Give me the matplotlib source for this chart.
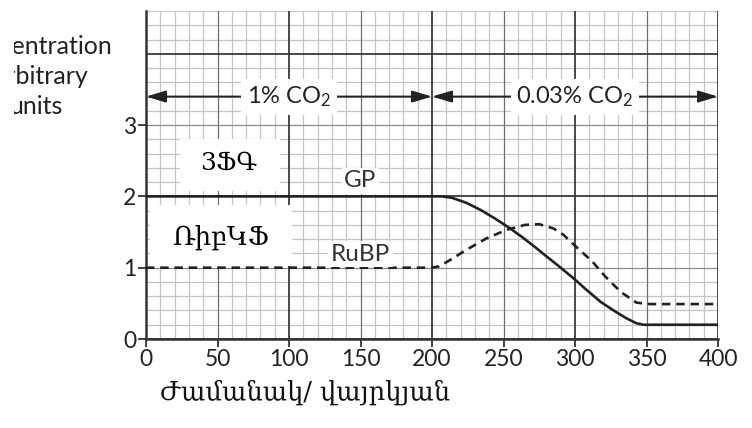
import matplotlib
matplotlib.use("Agg")
import matplotlib.pyplot as plt
import numpy as np
from matplotlib.patches import Rectangle

plt.rcParams['font.family'] = ['Lato', 'DejaVu Sans']
plt.rcParams['mathtext.fontset'] = 'custom'
plt.rcParams['mathtext.rm'] = 'Lato'
plt.rcParams['mathtext.it'] = 'Lato'

# ---- data ----
gp_time = [0, 200, 207, 214, 224, 234, 244, 254, 263, 272, 280, 290, 299, 308, 318, 327, 336, 343, 348, 400]
gp_conc = [2.0, 2.0, 2.0, 1.98, 1.91, 1.81, 1.69, 1.56, 1.43, 1.29, 1.16, 1.00, 0.85, 0.69, 0.52, 0.40, 0.29, 0.22, 0.20, 0.20]

rubp_time = [0, 200, 205, 212, 224, 238, 252, 265, 275, 285, 292, 302, 312, 321, 332, 343, 352, 400]
rubp_conc = [1.0, 1.0, 1.02, 1.10, 1.25, 1.41, 1.53, 1.60, 1.61, 1.55, 1.46, 1.27, 1.09, 0.88, 0.66, 0.51, 0.49, 0.49]

x_ticks = [0, 50, 100, 150, 200, 250, 300, 350, 400]
y_ticks = [0, 1, 2, 3]
phase_labels = ['1% CO$_2$', '0.03% CO$_2$']
phase_ranges = [(0, 200), (200, 400)]

fig = plt.figure(figsize=(7.52, 4.28), dpi=100)
ax = fig.add_axes([146/752, 89/428, 572/752, 328/428])
ax.set_xlim(0, 400)
ax.set_ylim(0, 4.6)

# graph-paper grid
for xv in np.arange(0, 401, 10):
    if xv % 100 == 0:
        ax.axvline(xv, color='#3a3a3a', lw=1.3, zorder=0.6)
    elif xv % 50 == 0:
        ax.axvline(xv, color='#6e6e6e', lw=0.9, zorder=0.5)
    else:
        ax.axvline(xv, color='#c4c4c4', lw=0.9, zorder=0.4)
for yv in np.arange(0, 4.61, 0.2):
    r = round(yv, 1)
    if abs(r % 2) < 1e-6:
        ax.axhline(r, color='#3a3a3a', lw=1.3, zorder=0.6)
    elif abs(r - round(r)) < 1e-6:
        ax.axhline(r, color='#8a8a8a', lw=0.9, zorder=0.5)
    else:
        ax.axhline(r, color='#c4c4c4', lw=0.9, zorder=0.4)

for s in ['top', 'right']:
    ax.spines[s].set_visible(False)
for s in ['left', 'bottom']:
    ax.spines[s].set_color('#333333')
    ax.spines[s].set_linewidth(1.8)

ax.set_xticks(x_ticks)
ax.set_yticks(y_ticks)
ax.tick_params(axis='both', direction='out', length=6, width=1.3, color='#333333',
               labelsize=16.5, labelcolor='#222222', pad=1)

# white label boxes
ax.add_patch(Rectangle((24, 2.07), 70, 0.73, facecolor='white', edgecolor='none', zorder=1.5))
ax.add_patch(Rectangle((3, 1.03), 99, 0.85, facecolor='white', edgecolor='none', zorder=1.5))

arm = ['DejaVu Serif', 'DejaVu Sans']
ax.text(58, 2.47, '3ՖԳ', fontsize=18, family=arm, ha='center', va='center', zorder=5)
ax.text(52, 1.43, 'ՌիբԿՖ', fontsize=18.5, family=arm, ha='center', va='center', zorder=5)

# curves
ax.plot(gp_time, gp_conc, color='#222222', lw=1.9, solid_joinstyle='round', zorder=3)
ax.plot(rubp_time, rubp_conc, color='#222222', lw=1.9, linestyle=(0, (3.2, 2.2)), zorder=3)

ax.text(150, 2.22, 'GP', fontsize=17.5, color='#333333', ha='center', va='center', zorder=5,
        bbox=dict(facecolor='white', edgecolor='none', pad=2))
ax.text(150, 1.19, 'RuBP', fontsize=17.5, color='#333333', ha='center', va='center', zorder=5,
        bbox=dict(facecolor='white', edgecolor='none', pad=2))

# CO2 phase arrows
for (a, b), lab in zip(phase_ranges, phase_labels):
    ax.annotate('', xy=(a, 3.4), xytext=(b, 3.4),
                arrowprops=dict(arrowstyle='<|-|>,head_length=1.0,head_width=0.3',
                                color='#222222', lw=1.4,
                                mutation_scale=12, shrinkA=0, shrinkB=0), zorder=4)
    ax.text((a + b) / 2, 3.4, lab, fontsize=17, color='#222222', ha='center', va='center',
            zorder=5, bbox=dict(facecolor='white', edgecolor='none', pad=4))

# y-axis label (cropped at the left as in the reference scan)
fig.text(113/752, 1 - 47/428, 'Concentration', fontsize=18, ha='right', va='center', color='#222222')
fig.text(88/752, 1 - 77/428, 'arbitrary', fontsize=18, ha='right', va='center', color='#222222')
fig.text(63/752, 1 - 107/428, 'units', fontsize=18, ha='right', va='center', color='#222222')
fig.patches.append(Rectangle((0, 0), 14/752, 1, transform=fig.transFigure,
                             facecolor='white', edgecolor='none', zorder=10))

# x-axis label
fig.text(160/752, 1 - 392/428, 'Ժամանակ/ վայրկյան', fontsize=18.5, family=arm,
         ha='left', va='center', color='#111111')

fig.savefig('out.png', dpi=100)
